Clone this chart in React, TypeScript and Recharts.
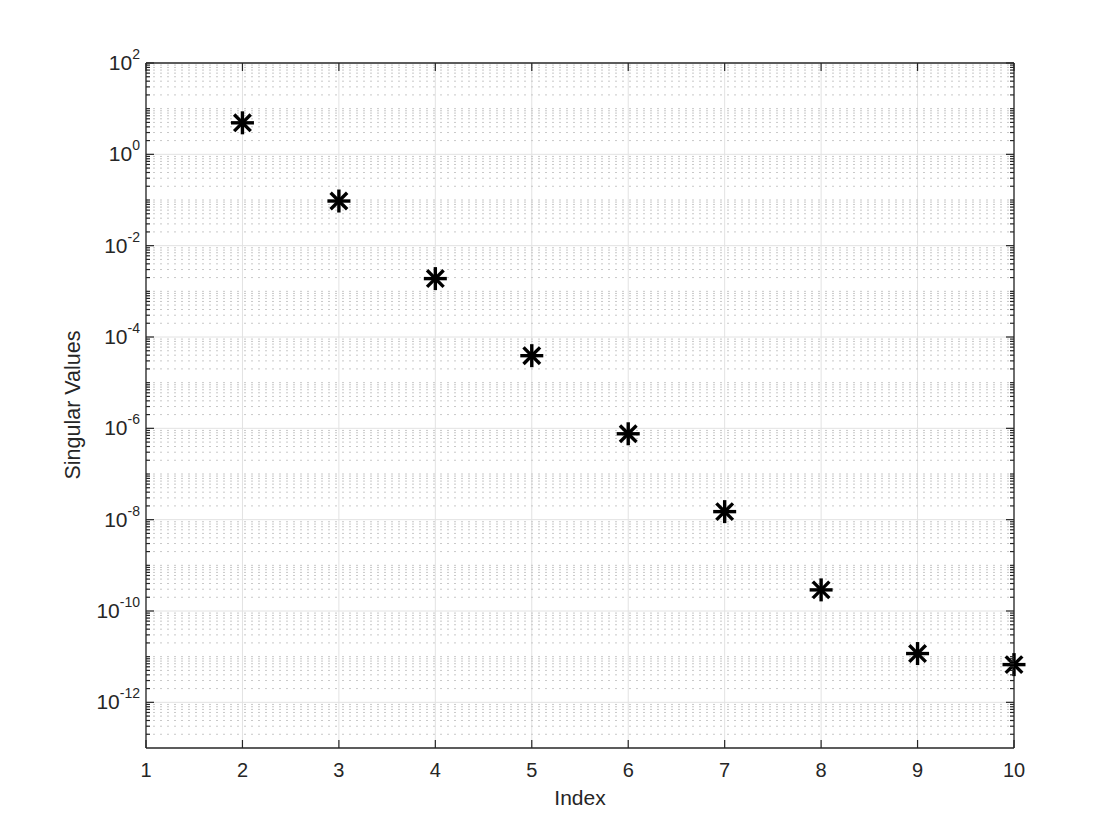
import React from 'react';
import { ScatterChart, Scatter, XAxis, YAxis, CartesianGrid, ReferenceLine, Label } from 'recharts';

// data
const indices = [2, 3, 4, 5, 6, 7, 8, 9, 10];
const singularValues = [4.9, 0.095, 1.9e-3, 3.9e-5, 7.6e-7, 1.5e-8, 2.9e-10, 1.17e-11, 6.7e-12];

const xTicks = [1, 2, 3, 4, 5, 6, 7, 8, 9, 10];
const yMajorExponents = [-12, -10, -8, -6, -4, -2, 0, 2];
const yMajorTicks = yMajorExponents.map((e) => Math.pow(10, e));

// minor log ticks: 2..9 x 10^k, plus the odd decades
const yMinorTicks: number[] = [];
for (let k = -13; k <= 1; k++) {
  if (k % 2 !== 0 && k > -13) yMinorTicks.push(Math.pow(10, k));
  for (let m = 2; m <= 9; m++) yMinorTicks.push(m * Math.pow(10, k));
}
const yAllTicks = [...yMajorTicks, ...yMinorTicks].sort((a, b) => a - b);

const data = indices.map((x, i) => ({ x, y: singularValues[i] }));

const FONT = '"Liberation Sans", Arial, Helvetica, sans-serif';
const TEXT = '#262626';
const PLOT = { left: 138, right: 1006, top: 55, bottom: 740 };

const isMajor = (v: number) => yMajorTicks.some((t) => Math.abs(v / t - 1) < 1e-6);

const YTick = (props: any) => {
  const { y, payload } = props;
  const v = payload.value;
  const major = isMajor(v);
  const len = major ? 8 : 4;
  const exp = Math.round(Math.log10(v));
  return (
    <g>
      <line x1={PLOT.left} x2={PLOT.left + len} y1={y} y2={y} stroke={TEXT} strokeWidth={1.2} />
      <line x1={PLOT.right} x2={PLOT.right - len} y1={y} y2={y} stroke={TEXT} strokeWidth={1.2} />
      {major && (
        <text x={132} y={y + 7} textAnchor="end" fontFamily={FONT} fontSize={21} fill={TEXT}>
          <tspan>10</tspan>
          <tspan dy={-11} fontSize={14}>{exp}</tspan>
        </text>
      )}
    </g>
  );
};

const XTick = (props: any) => {
  const { x, payload } = props;
  return (
    <g>
      <line x1={x} x2={x} y1={PLOT.bottom} y2={PLOT.bottom - 8} stroke={TEXT} strokeWidth={1.2} />
      <line x1={x} x2={x} y1={PLOT.top} y2={PLOT.top + 8} stroke={TEXT} strokeWidth={1.2} />
      <text x={x} y={PLOT.bottom + 22} textAnchor="middle" dominantBaseline="central" fontFamily={FONT} fontSize={20} fill={TEXT}>
        {payload.value}
      </text>
    </g>
  );
};

const Asterisk = (props: any) => {
  const { cx, cy } = props;
  const r = 11.5;
  const d = r * 0.72;
  return (
    <g stroke="#000" strokeWidth={3.4} strokeLinecap="butt">
      <line x1={cx - r} y1={cy} x2={cx + r} y2={cy} />
      <line x1={cx} y1={cy - r} x2={cx} y2={cy + r} />
      <line x1={cx - d} y1={cy - d} x2={cx + d} y2={cy + d} />
      <line x1={cx - d} y1={cy + d} x2={cx + d} y2={cy - d} />
    </g>
  );
};

export default function App() {
  return (
    <ScatterChart width={1104} height={824} margin={{ top: 55, right: 98, left: 0, bottom: 0 }}>
      <CartesianGrid horizontal={false} stroke="#e2e2e2" strokeWidth={1} />
      {yMinorTicks.map((v) => (
        <ReferenceLine key={'mn' + v} y={v} stroke="#c8c8c8" strokeWidth={1} strokeDasharray="2 5" />
      ))}
      {yMajorTicks.slice(0, -1).map((v) => (
        <ReferenceLine key={'mj' + v} y={v} stroke="#e2e2e2" strokeWidth={1} />
      ))}
      <XAxis
        type="number"
        dataKey="x"
        domain={[1, 10]}
        ticks={xTicks}
        interval={0}
        height={84}
        tickLine={false}
        axisLine={{ stroke: TEXT, strokeWidth: 1.3 }}
        tick={<XTick />}
      >
        <Label
          content={() => (
            <text x={572} y={789} textAnchor="middle" dominantBaseline="central" fontFamily={FONT} fontSize={21} fill={TEXT}>
              Index
            </text>
          )}
        />
      </XAxis>
      <YAxis
        type="number"
        dataKey="y"
        scale="log"
        domain={[1e-13, 100]}
        ticks={yAllTicks}
        interval={0}
        width={138}
        tickLine={false}
        axisLine={{ stroke: TEXT, strokeWidth: 1.3 }}
        tick={<YTick />}
      >
        <Label
          content={() => (
            <text
              x={65}
              y={397}
              transform="rotate(-90, 65, 397)"
              textAnchor="middle"
              dominantBaseline="central"
              fontFamily={FONT}
              fontSize={21.5}
              fill={TEXT}
            >
              Singular Values
            </text>
          )}
        />
      </YAxis>
      <ReferenceLine x={10} stroke={TEXT} strokeWidth={1.3} />
      <ReferenceLine y={100} stroke={TEXT} strokeWidth={1.3} />
      <Scatter data={data} fill="#000" shape={<Asterisk />} isAnimationActive={false} />
    </ScatterChart>
  );
}
